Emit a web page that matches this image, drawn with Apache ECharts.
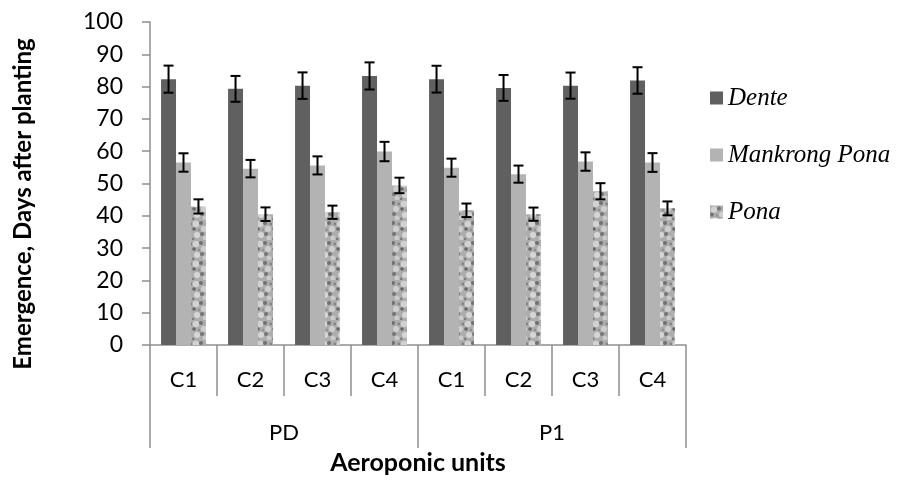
<!DOCTYPE html>
<html><head><meta charset="utf-8">
<script src="https://cdn.jsdelivr.net/npm/echarts@6/dist/echarts.min.js"></script>
<style>html,body{margin:0;padding:0;background:#fff}#c{width:901px;height:480px}</style>
</head><body><div id="c"></div>
<script>
const categories = ['C1','C2','C3','C4','C1','C2','C3','C4'];
const groups = ['PD','P1'];
const seriesNames = ['Dente','Mankrong Pona','Pona'];
const dente = [82.3,79.3,80.3,83.3,82.3,79.6,80.3,81.9];
const denteErr = [4.2,4.0,4.1,4.2,4.15,4.0,4.05,4.1];
const mankrong = [56.5,54.6,55.6,59.9,54.9,52.9,56.8,56.5];
const mankrongErr = [2.85,2.7,2.8,3.0,2.8,2.65,2.85,2.9];
const pona = [42.9,40.5,41.1,49.4,41.7,40.5,47.6,42.3];
const ponaErr = [2.2,2.1,2.05,2.4,2.1,2.05,2.5,2.15];
const yTicks = {min:0, max:100, interval:10};

function makePattern(){
  const c = document.createElement('canvas');
  c.width = 16; c.height = 20;
  const g = c.getContext('2d');
  g.fillStyle = '#adadad'; g.fillRect(0,0,16,20);
  const spots = [
    [4,4,3.2,'#d2d2d2'],[12,9,3.0,'#cecece'],[5,15,3.0,'#d6d6d6'],[13,18,2.4,'#cbcbcb'],
    [9,3,2.0,'#707070'],[2,9,1.8,'#666666'],[10,14,2.0,'#757575'],[15,4,1.4,'#828282'],
    [1,19,1.4,'#7d7d7d'],[7,10,1.3,'#909090']
  ];
  spots.forEach(s => { g.fillStyle = s[3]; g.beginPath(); g.arc(s[0],s[1],s[2],0,Math.PI*2); g.fill(); });
  return c;
}
const ponaPattern = {image: makePattern(), repeat: 'repeat'};

const catGapRatio = 0.33;
function errSeries(values, errs, idx){
  return {
    type: 'custom', xAxisIndex: 0, yAxisIndex: 0, z: 10, silent: true,
    data: values.map((v,i) => [i, v, errs[i]]),
    encode: {x: 0, y: 1},
    renderItem: function(params, api){
      const i = api.value(0), v = api.value(1), e = api.value(2);
      const catW = api.size([1,0])[0];
      const bw = catW * (1 - catGapRatio) / 3;
      const off = (idx - 1) * bw;
      const top = api.coord([i, v + e]);
      const bot = api.coord([i, v - e]);
      const x = top[0] + off;
      const cap = 5;
      const st = {stroke: '#000', lineWidth: 2};
      return {type: 'group', children: [
        {type:'line', shape:{x1:x, y1:top[1], x2:x, y2:bot[1]}, style: st},
        {type:'line', shape:{x1:x-cap, y1:top[1], x2:x+cap, y2:top[1]}, style: st},
        {type:'line', shape:{x1:x-cap, y1:bot[1], x2:x+cap, y2:bot[1]}, style: st}
      ]};
    }
  };
}

const axisGray = '#8f8f8f';
const chart = echarts.init(document.getElementById('c'), null, {renderer:'canvas'});
chart.setOption({
  animation: false,
  backgroundColor: '#fff',
  grid: {left: 150, right: 215, top: 22, bottom: 133, containLabel: false},
  legend: {
    orient: 'vertical', left: 705, top: 80, itemWidth: 13, itemHeight: 13, itemGap: 31,
    data: seriesNames,
    textStyle: {fontFamily: 'Liberation Serif', fontStyle: 'italic', fontSize: 25, color: '#000', lineHeight: 26},
    icon: 'rect'
  },
  xAxis: [
    {type: 'category', data: categories, position: 'bottom',
     axisLine: {show: true, lineStyle: {color: axisGray, width: 1.5}},
     axisTick: {show: true, interval: 0, length: 51, lineStyle: {color: axisGray, width: 1.5}},
     axisLabel: {interval: 0, margin: 24, fontFamily: 'Lato', fontSize: 22, color: '#000'}},
    {type: 'category', data: groups, position: 'bottom', gridIndex: 0,
     axisLine: {show: false},
     axisTick: {show: true, interval: 0, length: 103, lineStyle: {color: axisGray, width: 1.5}},
     axisLabel: {interval: 0, margin: 77, fontFamily: 'Lato', fontSize: 22, color: '#000'},
     name: 'Aeroponic units', nameLocation: 'middle', nameGap: 105,
     nameTextStyle: {fontFamily: 'Lato', fontWeight: 'bold', fontSize: 25, color: '#000'}}
  ],
  yAxis: {type: 'value', min: yTicks.min, max: yTicks.max, interval: yTicks.interval,
    splitLine: {show: false},
    axisLine: {show: true, lineStyle: {color: axisGray, width: 1.5}},
    axisTick: {show: true, length: 8, lineStyle: {color: axisGray, width: 1.5}},
    axisLabel: {margin: 27, fontFamily: 'Lato', fontSize: 23, color: '#000'}},
  graphic: [{type: 'text', x: 23, y: 204, rotation: Math.PI/2,
    style: {text: 'Emergence, Days after planting', fontFamily: 'Lato', fontWeight: 'bold', fontSize: 24,
            fill: '#000', textAlign: 'center', textVerticalAlign: 'middle'}}],
  series: [
    {name: seriesNames[0], type: 'bar', data: dente, barGap: '0%', barCategoryGap: '33%', itemStyle: {color: '#606060'}},
    {name: seriesNames[1], type: 'bar', data: mankrong, barGap: '0%', barCategoryGap: '33%', itemStyle: {color: '#b3b3b3'}},
    {name: seriesNames[2], type: 'bar', data: pona, barGap: '0%', barCategoryGap: '33%', itemStyle: {color: ponaPattern}},
    errSeries(dente, denteErr, 0),
    errSeries(mankrong, mankrongErr, 1),
    errSeries(pona, ponaErr, 2)
  ]
});
</script></body></html>
